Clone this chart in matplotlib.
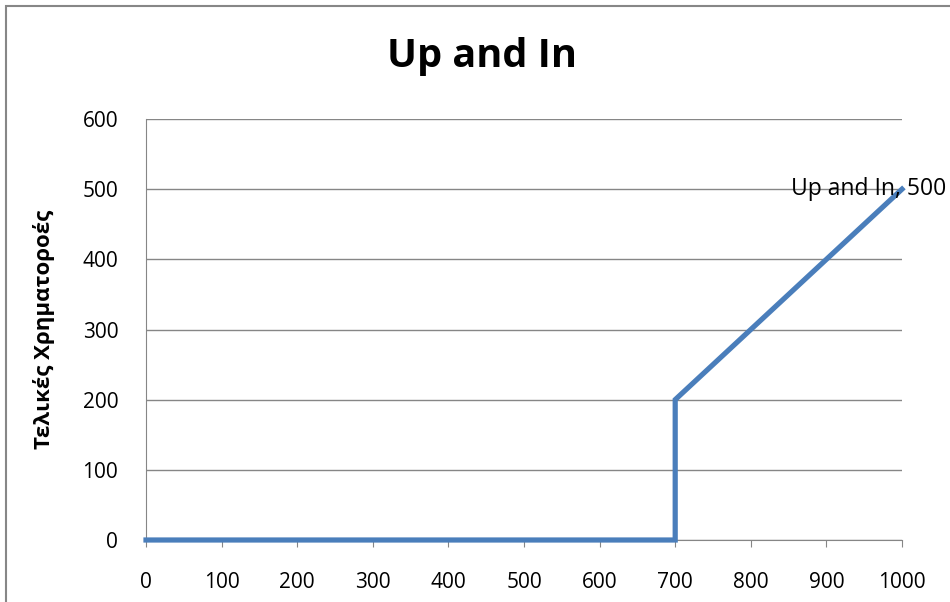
import matplotlib
matplotlib.use("Agg")
import matplotlib.pyplot as plt
from matplotlib.patches import Rectangle

# Payoff of the up-and-in option
spot = [0, 700, 700, 1000]
payoff = [0, 0, 200, 500]
x_ticks = [0, 100, 200, 300, 400, 500, 600, 700, 800, 900, 1000]
y_ticks = [0, 100, 200, 300, 400, 500, 600]
series_name = 'Up and In'

plt.rcParams['font.family'] = ['Open Sans', 'DejaVu Sans']

fig = plt.figure(figsize=(9.5, 6.02), dpi=100)
ax = fig.add_axes([146/950, 1 - 540/602, 756/950, 421/602])

# chart border (runs off the right and bottom edges)
fig.patches.append(Rectangle((6/950, -0.05), 1.1, 1 - 6/602 + 0.05,
                             transform=fig.transFigure, fill=False,
                             edgecolor='#878787', linewidth=1.5))

ax.plot(spot, payoff, color='#4a7ebb', linewidth=3.75, solid_joinstyle='miter',
        clip_on=False, zorder=3)
ax.annotate(f'{series_name}, {payoff[-1]}', (spot[-1], payoff[-1]),
            xytext=(32, 0), textcoords='offset points', ha='right',
            va='center', fontsize=16.5, zorder=4, annotation_clip=False)

ax.set_xlim(0, 1000)
ax.set_ylim(0, 600)
ax.set_xticks(x_ticks)
ax.set_yticks(y_ticks)
ax.grid(axis='y', color='#868686', linewidth=1)
ax.set_axisbelow(True)
for s in ['top', 'right']:
    ax.spines[s].set_visible(False)
for s in ['left', 'bottom']:
    ax.spines[s].set_color('#868686')
ax.tick_params(axis='x', direction='out', length=5, color='#868686',
               labelsize=15, pad=18)
ax.tick_params(axis='y', length=0, labelsize=15, pad=20)

ax.set_ylabel('Τελικές Χρηματοροές', fontsize=16, fontweight='bold', labelpad=20)
fig.text(482/950, 1 - 57/602, series_name, ha='center', va='center',
         fontsize=28.5, fontweight='bold')

fig.savefig('out.png', dpi=100)
